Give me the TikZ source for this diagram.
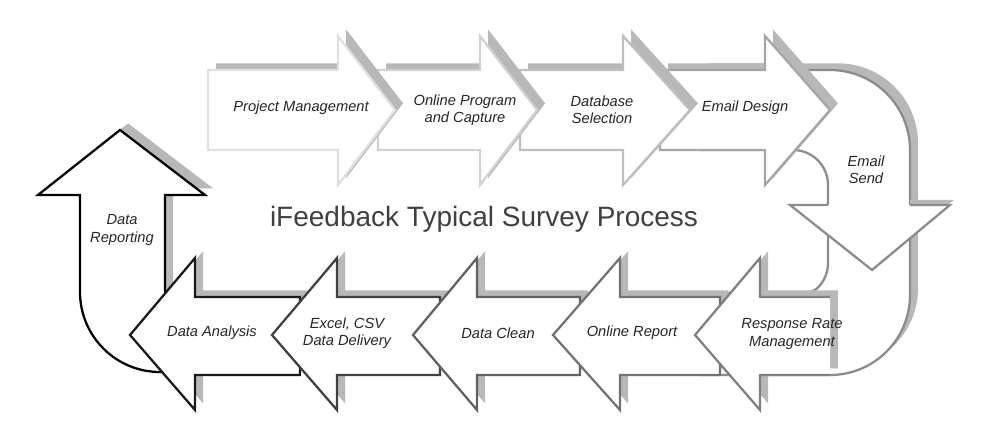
\documentclass[tikz,border=0pt]{standalone}
\usepackage{fontspec}
\setmainfont{Liberation Sans}
\usetikzlibrary{shadows}
\tikzset{
  stepshape/.style={fill=white, line width=1.7pt, line join=miter,
    drop shadow={shadow xshift=6pt, shadow yshift=5pt, opacity=1, fill=black!28}},
  flatshape/.style={fill=white, line width=1.7pt, line join=miter},
  steplabel/.style={font=\itshape\fontsize{11}{13}\selectfont, align=center, text=black!85},
}
\newcommand{\rightstep}[4]{% tail, head base, tip, colour
  \draw[stepshape, draw=#4] (#1,70) -- (#2,70) -- (#2,36) -- (#3,110) -- (#2,185) -- (#2,150) -- (#1,150) -- cycle;}
\newcommand{\leftstep}[4]{% tail, head base, tip, colour
  \draw[stepshape, draw=#4] (#1,297) -- (#2,297) -- (#2,258) -- (#3,335) -- (#2,410) -- (#2,375) -- (#1,375) -- cycle;}
\begin{document}
\begin{tikzpicture}[x=0.75pt,y=0.75pt,yscale=-1,xscale=1]
\useasboundingbox (0,0) rectangle (1000,438);
%Band round the right side
\draw[stepshape, draw=black!45] (700,70) -- (830,70) arc[start angle=-90, end angle=0, radius=80] -- (910,295)
  arc[start angle=0, end angle=90, radius=80] -- (700,375) -- (700,298) -- (793,298)
  arc[start angle=90, end angle=0, radius=35] -- (828,185) arc[start angle=0, end angle=-90, radius=35] -- (700,150) -- cycle;
%Email send head
\fill[black!28] (954,200) -- (910,200) -- (910,235) -- cycle;
\draw[flatshape, draw=black!45] (828,205) -- (790,205) -- (872,270) -- (950,205) -- (910,205);
%Top row
\rightstep{660}{765}{830}{black!35}
\rightstep{520}{623}{690}{black!25}
\rightstep{378}{480}{537}{black!18}
\rightstep{208}{338}{395}{black!12}
%Data reporting
\draw[stepshape, draw=black] (120,130) -- (205,195) -- (165,195) -- (165,290) -- (175,372) -- (160,372)
  arc[start angle=90, end angle=180, radius=80] -- (80,195) -- (38,195) -- cycle;
%Bottom row
\leftstep{300}{195}{130}{black!90}
\leftstep{440}{337}{272}{black!75}
\leftstep{580}{477}{413}{black!62}
\leftstep{720}{620}{553}{black!55}
\draw[stepshape, draw=black!50] (830,297) -- (760,297) -- (760,258) -- (695,335) -- (760,410) -- (760,375) -- (830,375);
% Text Node
\node[steplabel] (pm) at (301,108) {Project Management};
\node[steplabel] (op) at (465,110) {Online Program\\and Capture};
\node[steplabel] (db) at (602,110) {Database\\Selection};
\node[steplabel] (ed) at (745,108) {Email Design};
\node[steplabel] (es) at (866,170) {Email\\Send};
\node[steplabel] (rr) at (792,334) {Response Rate\\Management};
\node[steplabel] (or) at (632,333) {Online Report};
\node[steplabel] (dc) at (498,333) {Data Clean};
\node[steplabel] (xl) at (347,333) {Excel, CSV\\Data Delivery};
\node[steplabel] (da) at (212,333) {Data Analysis};
\node[steplabel] (dr) at (122,230) {Data\\Reporting};
\node[font=\fontsize{21}{24}\selectfont, text=black!75] (title) at (484,219) {iFeedback Typical Survey Process};
\end{tikzpicture}
\end{document}
